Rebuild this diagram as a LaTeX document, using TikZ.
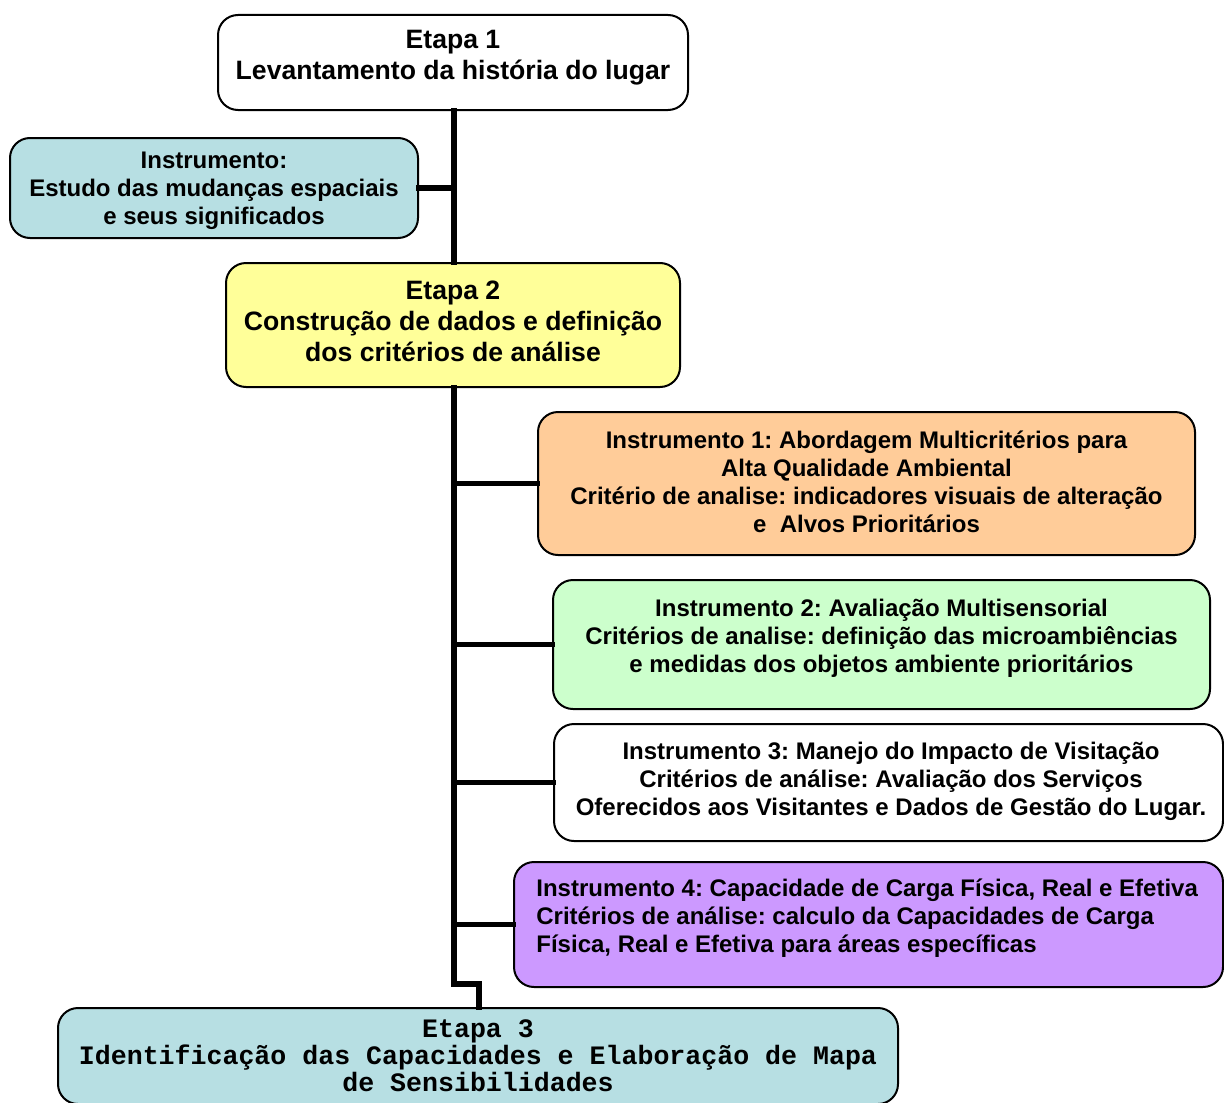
\documentclass[tikz,border=0pt]{standalone}
\usepackage{fontspec}
\setmainfont{Liberation Sans}
\newfontfamily\monofam{Liberation Mono}
\definecolor{lblue}{RGB}{183,223,227}
\definecolor{lyellow}{RGB}{255,255,153}
\definecolor{lorange}{RGB}{255,204,153}
\definecolor{lgreen}{RGB}{204,255,204}
\definecolor{lpurple}{RGB}{204,153,255}
\tikzset{
  box/.style={draw=black, line width=1pt, rounded corners=10pt, inner sep=0pt},
  etapatxt/.style={align=center, inner sep=0pt, font=\fontsize{13.3}{15.5}\selectfont\bfseries},
  instrtxt/.style={align=center, inner sep=0pt, font=\fontsize{12}{14}\selectfont\bfseries},
  trunk/.style={line width=2.6pt, line cap=rect}
}
\begin{document}
\frenchspacing
\begin{tikzpicture}[x=0.5pt,y=-0.5pt]
\useasboundingbox (0,0) rectangle (1224,1102);
\clip (0,0) rectangle (1224,1102);
% boxes
\node[box, fill=white, minimum width=235pt, minimum height=47.5pt] (e1) at (453,62.5) {};
\node[box, fill=lblue, minimum width=204pt, minimum height=50pt] (li) at (214,188) {};
\node[box, fill=lyellow, minimum width=227pt, minimum height=62pt] (e2) at (453,325) {};
\node[box, fill=lorange, minimum width=328.5pt, minimum height=71.5pt] (i1) at (866.5,483.5) {};
\node[box, fill=lgreen, minimum width=328.5pt, minimum height=64.5pt] (i2) at (881.5,644.5) {};
\node[box, fill=white, minimum width=334.5pt, minimum height=58.5pt, anchor=west] (i3) at (553,782.5) {};
\node[box, fill=lpurple, minimum width=354.5pt, minimum height=62.5pt, anchor=west] (i4) at (513,924.5) {};
\node[box, fill=lblue, minimum width=420pt, minimum height=48pt] (e3) at (478,1056) {};
% texts
\node[etapatxt] (e1t) at (453,57.5) {Etapa 1\\Levantamento da história do lugar};
\node[instrtxt] (lit) at (214,191) {Instrumento:\\Estudo das mudanças espaciais\\e seus significados};
\node[etapatxt] (e2t) at (453,321) {Etapa 2\\Construção de dados e definição\\dos critérios de análise};
\node[instrtxt] (i1t) at (866.5,482) {Instrumento 1: Abordagem Multicritérios para\\Alta Qualidade Ambiental\\Critério de analise: indicadores visuais de alteração\\e\ \ Alvos Prioritários};
\node[instrtxt] (i2t) at (881.5,638.5) {Instrumento 2: Avaliação Multisensorial\\Critérios de analise: definição das microambiências\\e medidas dos objetos ambiente prioritários};
\node[instrtxt] (i3t) at (891,781) {Instrumento 3: Manejo do Impacto de Visitação\\Critérios de análise: Avaliação dos Serviços\\Oferecidos aos Visitantes e Dados de Gestão do Lugar.};
\node[instrtxt, align=left, anchor=west] (i4t) at (536,918.5) {Instrumento 4: Capacidade de Carga Física, Real e Efetiva\\Critérios de análise: calculo da Capacidades de Carga\\Física, Real e Efetiva para áreas específicas};
\node[align=center, inner sep=0pt, font=\monofam\fontsize{13.3}{13.5}\selectfont\bfseries] (e3t) at (478,1056) {Etapa 3\\Identificação das Capacidades e Elaboração de Mapa\\de Sensibilidades};
% connectors
\coordinate (bend) at (479,984);
\draw[trunk] (e1.south -| 454,0) -- (e2.north -| 454,0);
\draw[trunk] (li.east) -- (li.east -| 454,0);
\draw[trunk] (e2.south -| 454,0) -- (bend -| 454,0) -- (bend) -- (e3.north -| bend);
\draw[trunk] (i1.west) -- (i1.west -| 454,0);
\draw[trunk] (i2.west) -- (i2.west -| 454,0);
\draw[trunk] (i3.west) -- (i3.west -| 454,0);
\draw[trunk] (i4.west) -- (i4.west -| 454,0);
\end{tikzpicture}
\end{document}
